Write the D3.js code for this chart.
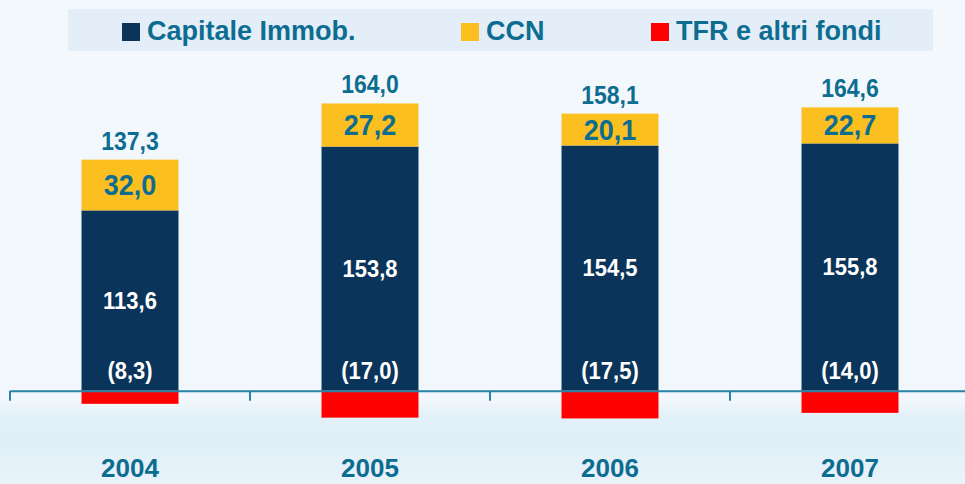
<!DOCTYPE html>
<html>
<head>
<meta charset="utf-8">
<script src="https://cdn.jsdelivr.net/npm/d3@7"></script>
<style>
  html, body { margin: 0; padding: 0; background: #f3f8fd; }
  svg { display: block; }
  text { font-family: "Liberation Sans", Arial, sans-serif; font-weight: bold; }
</style>
</head>
<body>
<div id="chart"></div>
<script>
const years = ["2004", "2005", "2006", "2007"];
const capitale = [113.6, 153.8, 154.5, 155.8];
const ccn = [32.0, 27.2, 20.1, 22.7];
const tfr = [8.3, 17.0, 17.5, 14.0];
const totals = [137.3, 164.0, 158.1, 164.6];
const seriesNames = ["Capitale Immob.", "CCN", "TFR e altri fondi"];
const seriesColors = ["#0a3459", "#fbbf1f", "#ff0000"];

const W = 965, H = 484;
const textColor = "#0d6d91";
const axisColor = "#2a82a6";

const svg = d3.select("#chart").append("svg").attr("width", W).attr("height", H);

// background
const defs = svg.append("defs");
const grad = defs.append("linearGradient").attr("id", "bg").attr("x1", 0).attr("y1", 0).attr("x2", 0).attr("y2", 1);
[[0, "#f3f8fd"], [0.83, "#f1f7fc"], [0.86, "#e2f0f8"], [0.92, "#e0eff7"], [1, "#e9f4fa"]].forEach(([o, c]) =>
  grad.append("stop").attr("offset", o).attr("stop-color", c));
svg.append("rect").attr("width", W).attr("height", H).attr("fill", "url(#bg)");

const fmt = v => v.toFixed(1).replace(".", ",");

const x = d3.scaleBand().domain(years).range([10, 970]).paddingInner(0.596).paddingOuter(0.298);
const y = d3.scaleLinear().domain([-20, 200]).range([422.4, 73.3]);

const data = years.map((yr, i) => ({ yr, cap: capitale[i], ccn: ccn[i], tfr: tfr[i], tot: totals[i] }));

// bars
const g = svg.append("g");
g.selectAll("rect.cap").data(data).join("rect")
  .attr("x", d => x(d.yr)).attr("width", x.bandwidth())
  .attr("y", d => y(d.cap)).attr("height", d => y(0) - y(d.cap))
  .attr("fill", seriesColors[0]);
g.selectAll("rect.ccn").data(data).join("rect")
  .attr("x", d => x(d.yr)).attr("width", x.bandwidth())
  .attr("y", d => y(d.cap + d.ccn)).attr("height", d => y(d.cap) - y(d.cap + d.ccn))
  .attr("fill", seriesColors[1]);
g.selectAll("rect.tfr").data(data).join("rect")
  .attr("x", d => x(d.yr)).attr("width", x.bandwidth())
  .attr("y", y(0)).attr("height", d => y(-d.tfr) - y(0))
  .attr("fill", seriesColors[2]);

// axis
const axis = d3.axisBottom(x).tickSizeInner(0).tickSizeOuter(0).tickFormat("");
const ax = svg.append("g").attr("transform", `translate(0,${y(0)})`).call(axis);
ax.select(".domain").attr("stroke", axisColor).attr("stroke-width", 2);
// boundary ticks between categories
const bounds = [10].concat(years.map(yr => x(yr) + x.bandwidth() + x.step() * x.paddingInner() / 2));
ax.selectAll("line.bt").data(bounds).join("line")
  .attr("x1", d => d).attr("x2", d => d).attr("y1", 0).attr("y2", 10)
  .attr("stroke", axisColor).attr("stroke-width", 2);

// year labels
svg.append("g").selectAll("text").data(years).join("text")
  .attr("x", d => x(d) + x.bandwidth() / 2).attr("y", 477)
  .attr("text-anchor", "middle").attr("fill", textColor).attr("font-size", 26)
  .text(d => d);

const cx = d => x(d.yr) + x.bandwidth() / 2;

// totals
svg.append("g").selectAll("text").data(data).join("text")
  .attr("transform", d => `translate(${cx(d)},${y(d.cap + d.ccn) - 10}) scale(1,1.1)`)
  .attr("text-anchor", "middle").attr("fill", textColor).attr("font-size", 23)
  .text(d => fmt(d.tot));
// ccn labels
svg.append("g").selectAll("text").data(data).join("text")
  .attr("transform", d => `translate(${cx(d)},${(y(d.cap) + y(d.cap + d.ccn)) / 2 + 10}) scale(1,1.08)`)
  .attr("text-anchor", "middle").attr("fill", textColor).attr("font-size", 27)
  .text(d => fmt(d.ccn));
// capitale labels
svg.append("g").selectAll("text").data(data).join("text")
  .attr("transform", d => `translate(${cx(d)},${(y(0) + y(d.cap)) / 2 + 8}) scale(1,1.08)`)
  .attr("text-anchor", "middle").attr("fill", "#ffffff").attr("font-size", 22)
  .text(d => fmt(d.cap));
// tfr labels
svg.append("g").selectAll("text").data(data).join("text")
  .attr("transform", d => `translate(${cx(d)},${y(0) - 12}) scale(1,1.08)`)
  .attr("text-anchor", "middle").attr("fill", "#ffffff").attr("font-size", 22)
  .text(d => `(${fmt(d.tfr)})`);

// legend
const lg = svg.append("g");
lg.append("rect").attr("x", 68).attr("y", 9).attr("width", 865).attr("height", 42).attr("fill", "#e4eef9");
const legX = [122, 461, 651];
const items = lg.selectAll("g.item").data(seriesNames).join("g")
  .attr("transform", (d, i) => `translate(${legX[i]},0)`);
items.append("rect").attr("x", 0).attr("y", 23).attr("width", 18).attr("height", 18)
  .attr("fill", (d, i) => seriesColors[i]);
items.append("text").attr("x", 25).attr("y", 40).attr("fill", textColor).attr("font-size", 27)
  .text(d => d);
</script>
</body>
</html>
